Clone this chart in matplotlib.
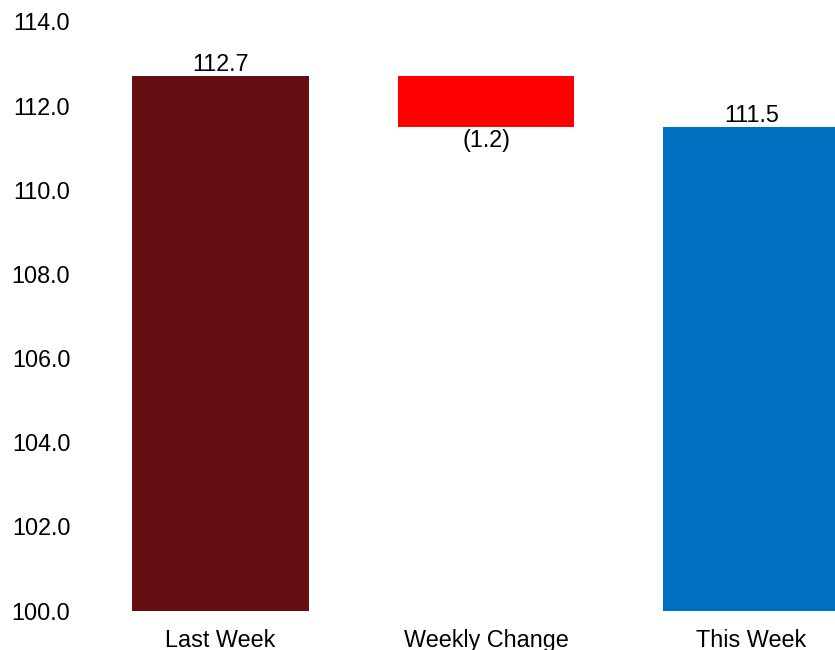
import matplotlib.pyplot as plt
from matplotlib.ticker import FormatStrFormatter

plt.rcParams['font.family'] = ['Liberation Sans', 'DejaVu Sans']

categories = ['Last Week', 'Weekly Change', 'This Week']
last_week = 112.7
change = -1.2
this_week = 111.5
value_labels = ['112.7', '(1.2)', '111.5']

colors = ['#650F12', '#FF0000', '#0070C0']

fig = plt.figure(figsize=(8.35, 6.5), dpi=100)
ax = fig.add_axes([80 / 835, 0.0605, 1 - 80 / 835, 0.9067])

x = list(range(len(categories)))
w = 0.665

b1 = ax.bar(x[0], last_week - 100, bottom=100, width=w, color=colors[0])
b2 = ax.bar(x[1], change, bottom=last_week, width=w, color=colors[1])
b3 = ax.bar(x[2], this_week - 100, bottom=100, width=w, color=colors[2])

fs = 16.8
ax.bar_label(b1, labels=[value_labels[0]], padding=0, fontsize=fs)
ax.bar_label(b2, labels=[value_labels[1]], padding=2, fontsize=fs)
ax.bar_label(b3, labels=[value_labels[2]], padding=0, fontsize=fs)

ax.set_ylim(100, 114)
ax.set_yticks([100, 102, 104, 106, 108, 110, 112, 114])
ax.yaxis.set_major_formatter(FormatStrFormatter('%.1f'))
ax.set_xlim((80 - 220.5) / 265.5, (835 - 220.5) / 265.5)
ax.set_xticks(x)
ax.set_xticklabels(categories)

ax.tick_params(axis='y', length=0, pad=7, labelsize=fs)
ax.tick_params(axis='x', length=0, pad=13, labelsize=fs)
for s in ax.spines.values():
    s.set_visible(False)

fig.savefig('out.png', dpi=100)
